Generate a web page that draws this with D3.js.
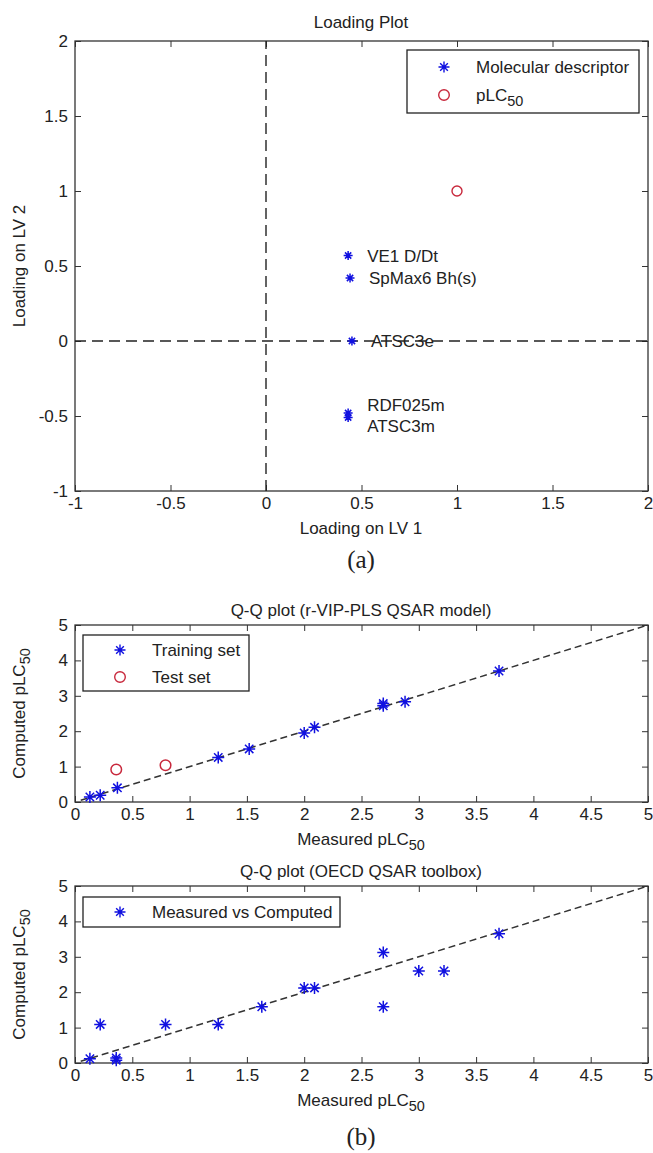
<!DOCTYPE html>
<html lang="en">
<head>
<meta charset="UTF-8">
<title>Loading plot and Q-Q plots</title>
<script src="https://d3js.org/d3.v7.min.js"></script>
<style>
  body { margin: 0; background: #fff; }
  text { font-family: "Liberation Sans", Arial, sans-serif; fill: #222; }
</style>
</head>
<body>
<script>
// (a) loading plot
const descNames = ['VE1 D/Dt', 'SpMax6 Bh(s)', 'ATSC3e', 'RDF025m', 'ATSC3m']
const descLV1 = [0.43, 0.44, 0.45, 0.43, 0.43]
const descLV2 = [0.57, 0.42, 0.0, -0.48, -0.51]
const respLV1 = [1.0]
const respLV2 = [1.0]
const loadTicks = [-1, -0.5, 0, 0.5, 1, 1.5, 2]

// (b) Q-Q plots
const trainMeas = [0.13, 0.22, 0.37, 1.25, 1.52, 2.0, 2.09, 2.69, 2.69, 2.88, 3.7]
const trainComp = [0.14, 0.19, 0.4, 1.26, 1.5, 1.95, 2.11, 2.72, 2.78, 2.83, 3.7]
const testMeas = [0.36, 0.79]
const testComp = [0.92, 1.04]
const oecdMeas = [0.13, 0.22, 0.36, 0.36, 0.79, 1.25, 1.63, 2.0, 2.09, 2.69, 2.69, 3.0, 3.22, 3.7]
const oecdComp = [0.12, 1.09, 0.14, 0.08, 1.09, 1.09, 1.59, 2.12, 2.12, 3.12, 1.59, 2.6, 2.6, 3.65]
const qqXTicks = [0, 0.5, 1, 1.5, 2, 2.5, 3, 3.5, 4, 4.5, 5]
const qqYTicks = [0, 1, 2, 3, 4, 5]

const width = 653
const height = 1153
const blue = '#1010e0'
const red = '#c8283c'
const fs = 17

const svg = d3.select('body').append('svg')
  .attr('width', width)
  .attr('height', height)
svg.append('rect').attr('width', width).attr('height', height).attr('fill', '#fff')

function star(s) {
  const a = s * 0.7
  return `M${-s},0H${s}M0,${-s}V${s}M${-a},${-a}L${a},${a}M${-a},${a}L${a},${-a}`
}

function addSub(sel, main, sub) {
  sel.append('tspan').text(main)
  sel.append('tspan').attr('dy', 5).attr('font-size', '0.85em').text(sub)
}

// axes box with inward ticks on all four sides, matlab style
function frame(x, y, xt, yt) {
  const g = svg.append('g')
  const [x0, x1] = x.range()
  const [y0, y1] = y.range()
  const fmt = d => String(d)
  const tick = 6

  g.append('g').attr('transform', `translate(0,${y0})`)
    .call(d3.axisBottom(x).tickValues(xt).tickFormat(fmt).tickSizeInner(-tick).tickSizeOuter(0).tickPadding(6))
  g.append('g').attr('transform', `translate(0,${y1})`)
    .call(d3.axisTop(x).tickValues(xt).tickFormat('').tickSizeInner(-tick).tickSizeOuter(0))
  g.append('g').attr('transform', `translate(${x0},0)`)
    .call(d3.axisLeft(y).tickValues(yt).tickFormat(fmt).tickSizeInner(-tick).tickSizeOuter(0).tickPadding(7))
  g.append('g').attr('transform', `translate(${x1},0)`)
    .call(d3.axisRight(y).tickValues(yt).tickFormat('').tickSizeInner(-tick).tickSizeOuter(0))

  g.selectAll('.domain').remove()
  g.selectAll('.tick line').attr('stroke', '#333')
  g.selectAll('.tick text').attr('font-size', fs).attr('fill', '#222')
    .attr('font-family', '"Liberation Sans", Arial, sans-serif')

  g.append('rect')
    .attr('x', x0).attr('y', y1)
    .attr('width', x1 - x0).attr('height', y0 - y1)
    .attr('fill', 'none').attr('stroke', '#333').attr('stroke-width', 1.3)
  return g
}

function legend(x, y, w, h, rowY, items) {
  const g = svg.append('g').attr('transform', `translate(${x},${y})`)
  g.append('rect').attr('width', w).attr('height', h)
    .attr('fill', '#fff').attr('stroke', '#222').attr('stroke-width', 1.3)
  items.forEach((it, i) => {
    const cy = rowY[i]
    if (it.kind === 'star') {
      g.append('path').attr('d', star(5.5)).attr('transform', `translate(37,${cy})`)
        .attr('stroke', blue).attr('stroke-width', 1.4)
    } else {
      g.append('circle').attr('cx', 37).attr('cy', cy).attr('r', 5.3)
        .attr('fill', 'none').attr('stroke', red).attr('stroke-width', 1.4)
    }
    const t = g.append('text').attr('x', 69).attr('y', cy + 6).attr('font-size', fs)
    if (it.sub) addSub(t, it.label, it.sub)
    else t.text(it.label)
  })
}

// ---------- (a) ----------
const xa = d3.scaleLinear().domain([-1, 2]).range([75, 648])
const ya = d3.scaleLinear().domain([-1, 2]).range([491, 41])

frame(xa, ya, loadTicks, loadTicks)

svg.append('line')
  .attr('x1', xa(-1)).attr('x2', xa(2)).attr('y1', ya(0)).attr('y2', ya(0))
  .attr('stroke', '#222').attr('stroke-width', 1.4).attr('stroke-dasharray', '11,6')
svg.append('line')
  .attr('x1', xa(0)).attr('x2', xa(0)).attr('y1', ya(-1)).attr('y2', ya(2))
  .attr('stroke', '#222').attr('stroke-width', 1.4).attr('stroke-dasharray', '11,6')

const descPts = descNames.map((n, i) => ({ name: n, x: descLV1[i], y: descLV2[i] }))
svg.selectAll('.desc').data(descPts).enter().append('path')
  .attr('class', 'desc')
  .attr('d', star(4.5))
  .attr('transform', d => `translate(${xa(d.x)},${ya(d.y)})`)
  .attr('stroke', blue).attr('stroke-width', 1.5)

// label nudges in px so the two bottom labels do not overlap
const labelShift = [0, 0, 0, -8, 8]
svg.selectAll('.dlabel').data(descPts).enter().append('text')
  .attr('class', 'dlabel')
  .attr('x', d => xa(d.x) + 19)
  .attr('y', (d, i) => ya(d.y) + labelShift[i] + 6)
  .attr('font-size', fs)
  .text(d => d.name)

svg.selectAll('.resp').data(respLV1).enter().append('circle')
  .attr('class', 'resp')
  .attr('cx', d => xa(d)).attr('cy', (d, i) => ya(respLV2[i])).attr('r', 5)
  .attr('fill', 'none').attr('stroke', red).attr('stroke-width', 1.4)

svg.append('text').attr('x', 361).attr('y', 28).attr('text-anchor', 'middle')
  .attr('font-size', fs).text('Loading Plot')
svg.append('text').attr('x', 361).attr('y', 534).attr('text-anchor', 'middle')
  .attr('font-size', fs).text('Loading on LV 1')
svg.append('text').attr('transform', `translate(25,${(41 + 491) / 2}) rotate(-90)`)
  .attr('text-anchor', 'middle').attr('font-size', fs).text('Loading on LV 2')
svg.append('text').attr('x', 361).attr('y', 568).attr('text-anchor', 'middle')
  .attr('font-size', 25).style('font-family', '"Liberation Serif", "Times New Roman", serif')
  .text('(a)')

legend(407, 50, 232, 63, [17, 45], [
  { kind: 'star', label: 'Molecular descriptor' },
  { kind: 'circle', label: 'pLC', sub: '50' }
])

// ---------- (b) ----------
function qqPanel(top, title, series) {
  const bottom = top + 177
  const x = d3.scaleLinear().domain([0, 5]).range([75, 648])
  const y = d3.scaleLinear().domain([0, 5]).range([bottom, top])
  frame(x, y, qqXTicks, qqYTicks)

  svg.append('line')
    .attr('x1', x(0.05)).attr('y1', y(0.05)).attr('x2', x(5)).attr('y2', y(5))
    .attr('stroke', '#333').attr('stroke-width', 1.5).attr('stroke-dasharray', '7,4')

  series.forEach(s => {
    const pts = s.mx.map((v, i) => [v, s.cy[i]])
    if (s.kind === 'star') {
      svg.append('g').selectAll('path').data(pts).enter().append('path')
        .attr('d', star(6))
        .attr('transform', d => `translate(${x(d[0])},${y(d[1])})`)
        .attr('stroke', blue).attr('stroke-width', 1.5)
    } else {
      svg.append('g').selectAll('circle').data(pts).enter().append('circle')
        .attr('cx', d => x(d[0])).attr('cy', d => y(d[1])).attr('r', 5.3)
        .attr('fill', 'none').attr('stroke', red).attr('stroke-width', 1.5)
    }
  })

  svg.append('text').attr('x', 361).attr('y', top - 9).attr('text-anchor', 'middle')
    .attr('font-size', fs).text(title)
  const xl = svg.append('text').attr('x', 361).attr('y', bottom + 43).attr('text-anchor', 'middle')
    .attr('font-size', fs)
  addSub(xl, 'Measured pLC', '50')
  const yl = svg.append('text').attr('transform', `translate(25,${(top + bottom) / 2}) rotate(-90)`)
    .attr('text-anchor', 'middle').attr('font-size', fs)
  addSub(yl, 'Computed pLC', '50')
}

qqPanel(625, 'Q-Q plot (r-VIP-PLS QSAR model)', [
  { kind: 'star', mx: trainMeas, cy: trainComp },
  { kind: 'circle', mx: testMeas, cy: testComp }
])
legend(83, 635, 166, 56, [15, 42], [
  { kind: 'star', label: 'Training set' },
  { kind: 'circle', label: 'Test set' }
])

qqPanel(886, 'Q-Q plot (OECD QSAR toolbox)', [
  { kind: 'star', mx: oecdMeas, cy: oecdComp }
])
legend(83, 897, 257, 30, [15], [
  { kind: 'star', label: 'Measured vs Computed' }
])

svg.append('text').attr('x', 361).attr('y', 1145).attr('text-anchor', 'middle')
  .attr('font-size', 25).style('font-family', '"Liberation Serif", "Times New Roman", serif')
  .text('(b)')
</script>
</body>
</html>
